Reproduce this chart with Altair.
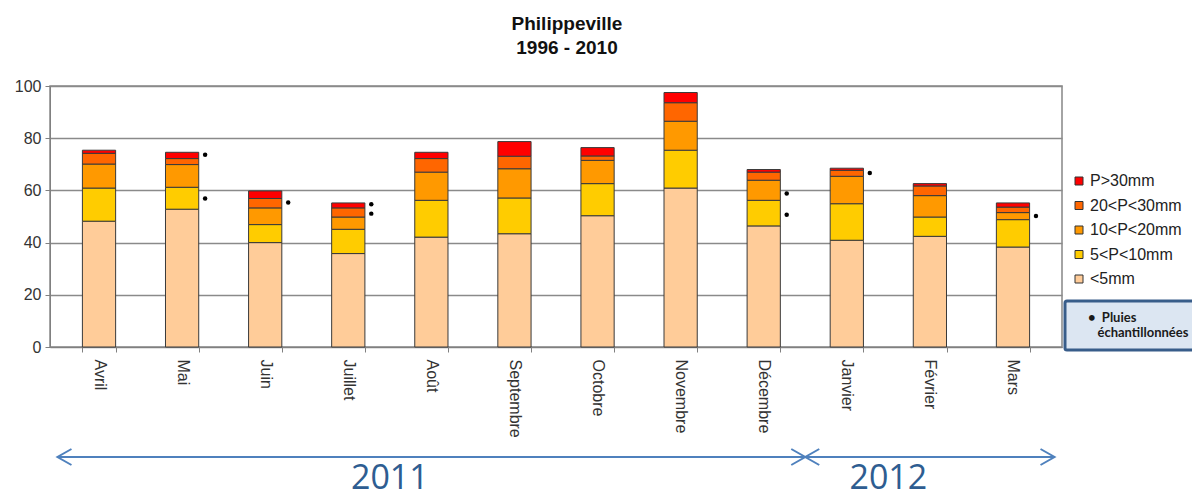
import altair as alt
import pandas as pd

# ---------------- data ----------------
months = ["Avril", "Mai", "Juin", "Juillet", "Août", "Septembre", "Octobre",
          "Novembre", "Décembre", "Janvier", "Février", "Mars"]

# stacked classes, bottom -> top
classes = ["<5mm", "5<P<10mm", "10<P<20mm", "20<P<30mm", "P>30mm"]
lt5 = [48.2, 52.8, 40.0, 35.8, 42.1, 43.4, 50.3, 60.9, 46.4, 40.9, 42.4, 38.3]
p5_10 = [12.7, 8.4, 6.9, 9.3, 14.1, 13.7, 12.3, 14.5, 9.8, 14.0, 7.4, 10.5]
p10_20 = [9.2, 8.7, 6.4, 4.7, 10.8, 11.2, 8.9, 11.1, 7.7, 10.5, 8.2, 2.7]
p20_30 = [4.1, 2.3, 3.6, 3.5, 5.2, 4.8, 1.7, 7.1, 3.1, 2.3, 3.7, 2.1]
gt30 = [1.2, 2.4, 2.9, 1.9, 2.4, 5.6, 3.2, 3.9, 1.0, 0.8, 0.9, 1.6]
series = [lt5, p5_10, p10_20, p20_30, gt30]

legend_order = ["P>30mm", "20<P<30mm", "10<P<20mm", "5<P<10mm", "<5mm"]
legend_colors = ["#FF0000", "#FF6600", "#FF9900", "#FFCC00", "#FFCC99"]

# sampled rainfalls (dots)
dot_months = ["Mai", "Mai", "Juin", "Juillet", "Juillet", "Décembre", "Décembre", "Janvier", "Mars"]
dot_values = [73.7, 56.9, 55.4, 54.7, 51.1, 58.8, 50.7, 66.7, 50.2]
dot_label = "Pluies échantillonnées"

# year arrows
years = ["2011", "2012"]
year_start = ["Avril", "Janvier"]
year_end = ["Décembre", "Mars"]
year_center = ["Août", "Février"]

title_lines = ["Philippeville", "1996 - 2010"]
y_ticks = [0, 20, 40, 60, 80, 100]

# ---------------- tables ----------------
rows = []
for ci, (cls, arr) in enumerate(zip(classes, series)):
    for m, v in zip(months, arr):
        rows.append({"mois": m, "classe": cls, "ordre": ci, "valeur": v})
df = pd.DataFrame(rows)
dots_df = pd.DataFrame({"mois": dot_months, "valeur": dot_values, "lab": dot_label})
arrows_df = pd.DataFrame({"annee": years, "debut": year_start, "fin": year_end, "centre": year_center})

# ---------------- chart ----------------
W, H = 1012, 261
PAD_IN, PAD_OUT = 0.6, 0.39
xscale = alt.Scale(domain=months, paddingInner=PAD_IN, paddingOuter=PAD_OUT)
STEP = W / (len(months) - PAD_IN + 2 * PAD_OUT)
HALF_GAP = PAD_IN * STEP / 2          # distance from a band edge to the step boundary
FONT = "Liberation Sans"
ARROW = "#4F81BD"
ARROW_Y = 371
NB = "\u00a0"   # non-breaking space
ZW = "\u200b"   # zero-width space (keeps the indent from being trimmed)

bars = alt.Chart(df).mark_bar(stroke="#3a3a3a", strokeWidth=1).encode(
    x=alt.X("mois:N", scale=xscale, title=None,
            axis=alt.Axis(labelAngle=90, labelAlign="left", labelBaseline="middle",
                          labelFontSize=16, labelFont=FONT, labelColor="#333333",
                          labelPadding=7, tickBand="extent", tickSize=5,
                          domainColor="#808080", tickColor="#808080", grid=False)),
    y=alt.Y("valeur:Q", stack="zero", title=None,
            scale=alt.Scale(domain=[0, 100], nice=False),
            axis=alt.Axis(values=y_ticks, labelFontSize=16, labelFont=FONT,
                          labelColor="#333333", tickSize=5, labelPadding=4,
                          domainColor="#808080", tickColor="#808080",
                          gridColor="#8a8a8a", gridWidth=1.5)),
    color=alt.Color("classe:N", scale=alt.Scale(domain=legend_order, range=legend_colors),
                    legend=alt.Legend(title=None, orient="none", legendX=1021, legendY=87,
                                      symbolType="square", symbolSize=64,
                                      symbolStrokeColor="#333333", symbolStrokeWidth=1,
                                      labelFont=FONT, labelFontSize=16, labelColor="#222222",
                                      labelOffset=3, rowPadding=8.5, padding=0)),
    order=alt.Order("ordre:Q", sort="ascending"),
)

line1 = "•" + NB * 2 + "Pluies"
line2 = ZW + NB * 3 + "échantillonnées"
box_label = "['" + line1 + "', '" + line2 + "']"

dots = alt.Chart(dots_df).mark_point(filled=True, color="black", size=20, opacity=1, xOffset=23).encode(
    x=alt.X("mois:N", scale=xscale, title=None),
    y=alt.Y("valeur:Q", title=None),
    shape=alt.Shape("lab:N", scale=alt.Scale(range=["circle"]),
                    legend=alt.Legend(title=None, orient="none", legendX=1015, legendY=215,
                                      fillColor="#DCE6F2", strokeColor="#385D8A",
                                      padding=10, cornerRadius=2,
                                      symbolSize=1, symbolOpacity=0, labelOffset=0,
                                      labelAlign="left",
                                      labelFont="Lato", labelFontWeight="bold",
                                      labelFontSize=13, labelColor="#1a1a1a",
                                      labelLimit=400, labelExpr=box_label)),
)

rules = alt.Chart(arrows_df).mark_rule(color=ARROW, strokeWidth=2,
                                       xOffset=-HALF_GAP, x2Offset=HALF_GAP).encode(
    x=alt.X("debut:N", scale=xscale, bandPosition=0, title=None),
    x2=alt.X2("fin:N", bandPosition=1),
    y=alt.value(ARROW_Y),
)
left_heads = alt.Chart(arrows_df).mark_point(shape="M1.75,-1L0,0L1.75,1", filled=False,
                                              color=ARROW, strokeWidth=2, size=256, opacity=1,
                                              xOffset=-HALF_GAP).encode(
    x=alt.X("debut:N", scale=xscale, bandPosition=0, title=None),
    y=alt.value(ARROW_Y),
)
right_heads = alt.Chart(arrows_df).mark_point(shape="M-1.75,-1L0,0L-1.75,1", filled=False,
                                               color=ARROW, strokeWidth=2, size=256, opacity=1,
                                               xOffset=HALF_GAP).encode(
    x=alt.X("fin:N", scale=xscale, bandPosition=1, title=None),
    y=alt.value(ARROW_Y),
)
year_text = alt.Chart(arrows_df).mark_text(font="Open Sans", fontSize=34, color="#2E5D91",
                                           baseline="alphabetic", align="center",
                                           xOffset=-HALF_GAP).encode(
    x=alt.X("centre:N", scale=xscale, bandPosition=0, title=None),
    y=alt.value(403),
    text="annee:N",
)

chart = alt.layer(bars, dots, rules, left_heads, right_heads, year_text).properties(
    width=W, height=H,
    title=alt.TitleParams(title_lines, fontSize=19, font=FONT, fontWeight="bold",
                          color="#111111", anchor="middle", dx=11, offset=20, lineHeight=24),
    autosize=alt.AutoSizeParams(type="none"),
    padding={"left": 42, "top": 78, "right": 130, "bottom": 149},
).configure_view(stroke="#868686", strokeWidth=1.5).configure_legend(strokeWidth=3)

chart.save("out.html", embed_options={"renderer": "svg", "actions": False})
